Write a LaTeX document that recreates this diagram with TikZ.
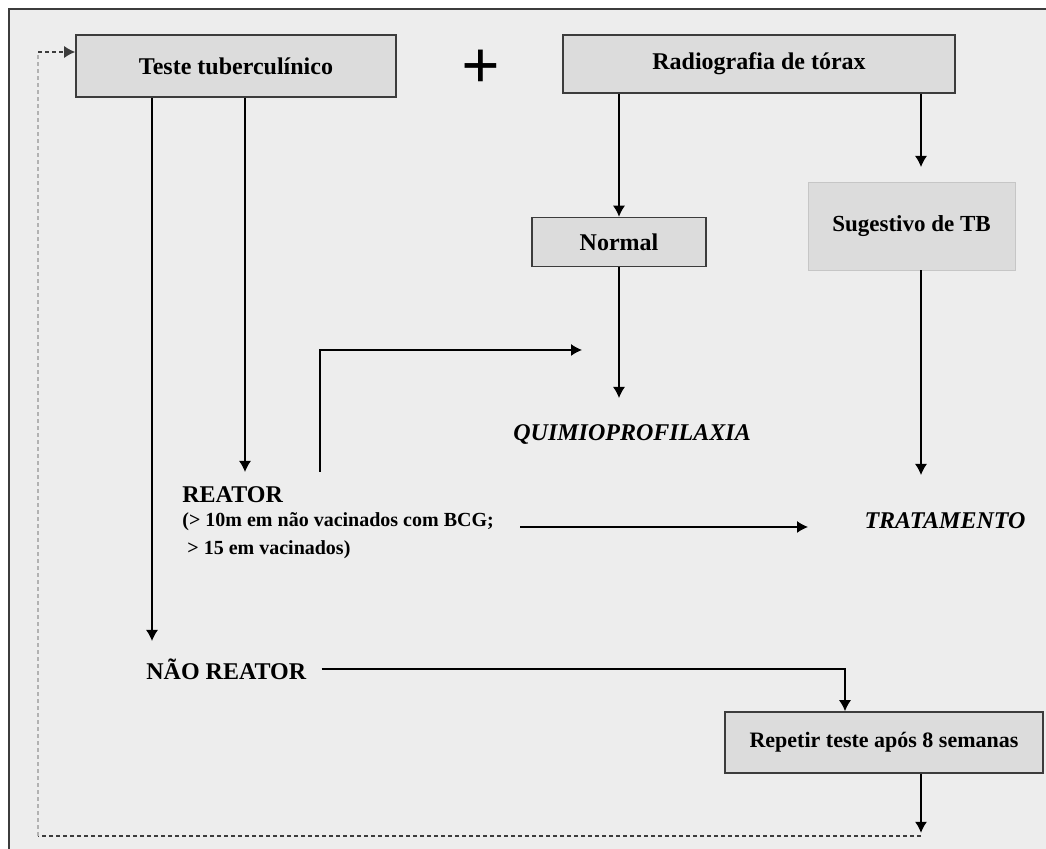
\documentclass[tikz,border=0pt]{standalone}
\usepackage{fontspec}
\setmainfont{Liberation Serif}
\usepackage{tikz}
\usetikzlibrary{arrows.meta}

\definecolor{paper}{HTML}{EDEDED}
\definecolor{boxfill}{HTML}{DCDCDC}
\definecolor{rim}{HTML}{3C3C3C}

\tikzset{
  box/.style={draw=rim, fill=boxfill, line width=0.8pt, font=\bfseries\fontsize{12}{14}\selectfont},
  softbox/.style={draw=boxfill!90!black, fill=boxfill, line width=0.3pt, font=\bfseries\fontsize{11.5}{14}\selectfont},
  label/.style={font=\bfseries\fontsize{12}{14}\selectfont, inner sep=0pt},
  flow/.style={line width=0.6pt, -{Latex[length=5.5pt,width=6pt]}},
  back/.style={line width=0.6pt, dashed, dash pattern=on 2pt off 1.5pt}
}

\begin{document}
\begin{tikzpicture}[x=0.5pt, y=-0.5pt]

    \useasboundingbox (0,0) rectangle (1046,849);

    % Frame
    \fill[white] (0,0) rectangle (1046,849);
    \fill[paper] (9,9) rectangle (1046,849);
    \draw[rim, line width=0.7pt] (9,849) -- (9,9) -- (1046,9);

    % Boxes
    \node[box, minimum width=160pt, minimum height=31pt]   (teste)   at (236,66)    {Teste tuberculínico};
    \node[box, minimum width=196pt, minimum height=29pt]   (radio)   at (759,64)    {Radiografia de tórax};
    \node[box, minimum width=87pt,  minimum height=24.5pt] (normal)  at (619,242) {Normal};
    \node[softbox, minimum width=103.5pt, minimum height=44pt] (sugest) at (911.5,226) {Sugestivo de TB};
    \node[box, minimum width=159pt, minimum height=30.5pt, font=\bfseries\fontsize{11}{14}\selectfont] (repetir) at (884,742.5) {Repetir teste após 8 semanas};

    \node[font=\bfseries\fontsize{34}{34}\selectfont, inner sep=0pt] (plus) at (481,69) {+};

    % Results
    \node[label, anchor=north west, align=left] (reator) at (182,486)
        {REATOR\\[-2pt]
         {\fontsize{10}{13}\selectfont (> 10m em não vacinados com BCG;}\\
         {\fontsize{10}{13}\selectfont \ > 15 em vacinados)}};
    \node[label, anchor=west] (naoreator) at (146,669) {NÃO REATOR};
    \node[label, anchor=west, font=\bfseries\itshape\fontsize{12}{14}\selectfont] (quimio) at (513,435) {QUIMIOPROFILAXIA};
    \node[label, font=\bfseries\itshape\fontsize{12}{14}\selectfont] (trat)   at (945,521) {TRATAMENTO};

    \coordinate (r1)   at (320,472);   % start of the bent arrow
    \coordinate (r2)   at (520,527);   % start of the arrow to TRATAMENTO
    \coordinate (loop) at (921,836);   % foot of the return loop

    % Connectors
    \draw[flow] (teste.south -| 152,0) -- (152,641);
    \draw[flow] (teste.south -| 245,0) -- (245,472);
    \draw[flow] (radio.south -| normal) -- (normal.north);
    \draw[flow] (radio.south -| 921,0) -- (921,167);
    \draw[flow] (normal.south) -- (619,398);
    \draw[flow] (sugest.south -| 921,0) -- (921,475);
    \draw[flow] (r1) -- (320,350) -- (582,350);
    \draw[flow] (r2) -- ++(288,0);
    \draw[flow] (naoreator.east) ++(15,0) -- (845,669) -- (repetir.north -| 845,0);
    \draw[flow] (repetir.south -| loop) -- ++(0,59);

    % Return loop
    \draw[back, rim] (loop) -- (38,836);
    \draw[back, gray!60] (38,836) -- (38,52);
    \draw[back, rim, -{Latex[length=5.5pt,width=6pt]}] (38,52) -- (teste.west |- 0,52);

\end{tikzpicture}
\end{document}
